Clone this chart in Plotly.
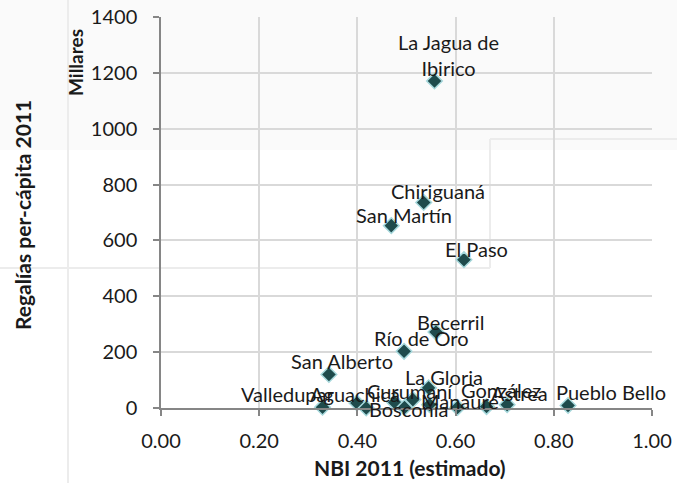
import plotly.graph_objects as go

# ---- data ----
municipios = ["La Jagua de Ibirico", "Chiriguaná", "San Martín", "El Paso", "Becerril",
              "Río de Oro", "San Alberto", "La Gloria", "Valledupar", "Aguachica",
              "Curumaní", "Bosconia", "González", "Manaure", "Astrea", "Pueblo Bello",
              "", "", ""]
nbi = [0.557, 0.535, 0.469, 0.617, 0.560,
       0.495, 0.342, 0.545, 0.329, 0.399,
       0.476, 0.496, 0.663, 0.604, 0.705, 0.829,
       0.418, 0.513, 0.547]
regalias = [1171, 736, 653, 531, 272,
            203, 120, 72, 3, 18,
            20, 2, 5, 2, 12, 9,
            0, 30, 12]
label_text = {"La Jagua de Ibirico": "La Jagua de<br>Ibirico"}

x_ticks = [0, 0.2, 0.4, 0.6, 0.8, 1.0]
x_ticklabels = ["0.00", "0.20", "0.40", "0.60", "0.80", "1.00"]
y_ticks = [0, 200, 400, 600, 800, 1000, 1200, 1400]

# label placement (pixel offsets from marker centre: dx right, dy up)
label_offsets = {
    "La Jagua de Ibirico": (14, 26), "Chiriguaná": (14, 11), "San Martín": (13, 11),
    "El Paso": (13, 11), "Becerril": (15, 10), "Río de Oro": (17, 13),
    "San Alberto": (13, 13), "La Gloria": (15, 11), "Valledupar": (-35, 13),
    "Aguachica": (-2, 9), "Curumaní": (15, 11), "Bosconia": (4, -2),
    "González": (14, 17), "Manaure": (2, 6), "Astrea": (12, 12),
    "Pueblo Bello": (43, 13),
}

FONT = "Lato, 'Open Sans', sans-serif"
W, H = 677, 483
L, R, T, B = 161, 25, 17, 75
pw, ph = W - L - R, H - T - B

def sx(px):
    return (px - L) / pw

def sy(py):
    return (H - B - py) / ph

fig = go.Figure()
fig.add_trace(go.Scatter(
    x=nbi, y=regalias, mode="markers",
    marker=dict(symbol="diamond", size=12, color="#1f4b4c",
                line=dict(color="#a6d8dc", width=1.5)),
    hoverinfo="text", text=municipios, showlegend=False, cliponaxis=False,
))

annotations = []
for name, xv, yv in zip(municipios, nbi, regalias):
    if not name:
        continue
    dx, dy = label_offsets.get(name, (14, 11))
    annotations.append(dict(
        x=xv, y=yv, xref="x", yref="y", text=label_text.get(name, name),
        showarrow=False, xshift=dx, yshift=dy, xanchor="center", yanchor="middle",
        font=dict(family=FONT, size=20, color="#1a1a1a"),
    ))

annotations.append(dict(text="<b>NBI 2011 (estimado)</b>", x=sx(410), y=sy(467),
                        xref="paper", yref="paper", showarrow=False,
                        xanchor="center", yanchor="middle",
                        font=dict(family=FONT, size=21, color="#1a1a1a")))
annotations.append(dict(text="<b>Regalías per-cápita 2011</b>", x=sx(22), y=sy(215),
                        xref="paper", yref="paper", showarrow=False, textangle=-90,
                        xanchor="center", yanchor="middle",
                        font=dict(family=FONT, size=21, color="#1a1a1a")))
annotations.append(dict(text="<b>Millares</b>", x=sx(75), y=sy(63),
                        xref="paper", yref="paper", showarrow=False, textangle=-90,
                        xanchor="center", yanchor="middle",
                        font=dict(family=FONT, size=19, color="#1a1a1a")))

# faint background artefacts
shapes = [
    dict(type="rect", xref="paper", yref="paper", x0=sx(0), x1=sx(W), y0=sy(150), y1=sy(0),
         fillcolor="#fafafa", line=dict(width=0), layer="below"),
    dict(type="line", xref="paper", yref="paper", x0=sx(68), x1=sx(68), y0=sy(H), y1=sy(0),
         line=dict(color="#ececec", width=2), layer="below"),
    dict(type="line", xref="paper", yref="paper", x0=sx(0), x1=sx(490), y0=sy(268), y1=sy(268),
         line=dict(color="#ececec", width=2), layer="below"),
    dict(type="line", xref="paper", yref="paper", x0=sx(490), x1=sx(490), y0=sy(268), y1=sy(139),
         line=dict(color="#ececec", width=2), layer="below"),
    dict(type="line", xref="paper", yref="paper", x0=sx(490), x1=sx(W), y0=sy(139), y1=sy(139),
         line=dict(color="#ececec", width=2), layer="below"),
]

fig.update_layout(
    width=W, height=H, margin=dict(l=L, r=R, t=T, b=B, autoexpand=False),
    paper_bgcolor="white", plot_bgcolor="rgba(0,0,0,0)",
    font=dict(family=FONT, size=20, color="#1a1a1a"),
    annotations=annotations, shapes=shapes,
    xaxis=dict(range=[0, 1], tickvals=x_ticks, ticktext=x_ticklabels,
               showgrid=True, gridcolor="#d9d9d9", gridwidth=1.5,
               showline=True, linecolor="#868686", linewidth=1.5,
               ticks="outside", ticklen=6, tickcolor="#868686", tickwidth=1.5,
               ticklabelstandoff=8, zeroline=False, automargin=False,
               tickfont=dict(family=FONT, size=20, color="#1a1a1a")),
    yaxis=dict(range=[0, 1400], tickvals=y_ticks,
               showgrid=True, gridcolor="#d9d9d9", gridwidth=1.5,
               showline=True, linecolor="#868686", linewidth=1.5,
               ticks="outside", ticklen=6, tickcolor="#868686", tickwidth=1.5,
               ticklabelstandoff=12, zeroline=False, automargin=False,
               tickfont=dict(family=FONT, size=20, color="#1a1a1a")),
)

fig.write_html("out.html", config={"displayModeBar": False},
               post_script="document.body.style.margin='0';document.body.style.padding='0';")
